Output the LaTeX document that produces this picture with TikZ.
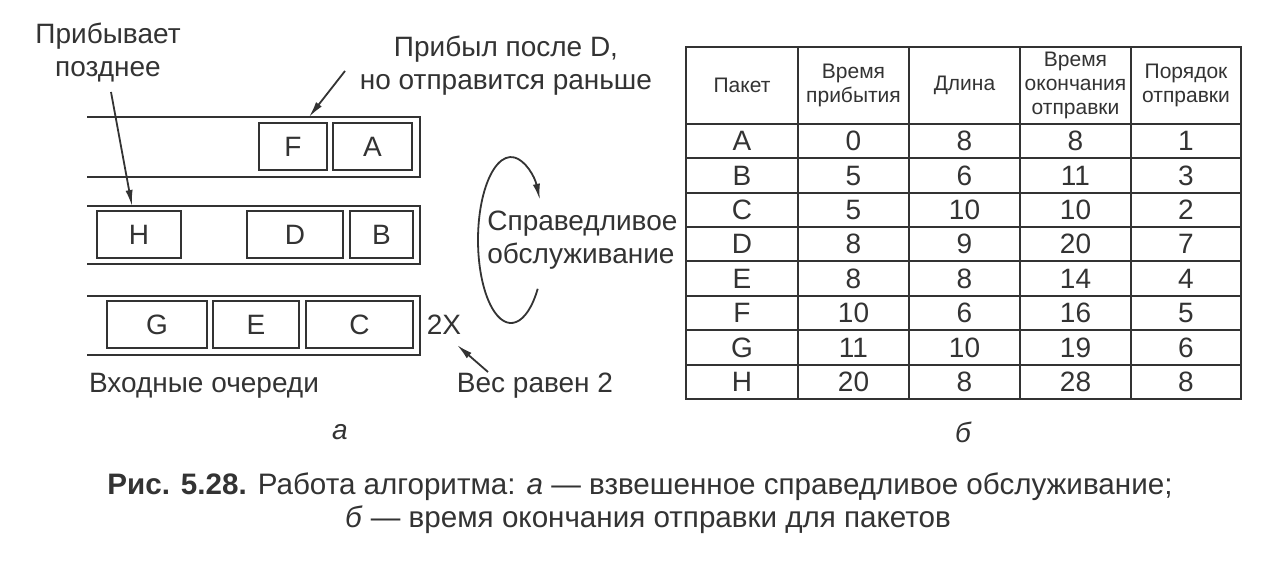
\documentclass[tikz,border=0pt]{standalone}
\usepackage{fontspec}
\setmainfont{Liberation Sans}
\usetikzlibrary{arrows.meta}
\definecolor{ink}{HTML}{333333}
\begin{document}
\begin{tikzpicture}[x=0.5pt,y=-0.5pt,
  lbl/.style={text=ink,inner sep=0pt,font=\fontsize{14}{16.5}\selectfont},
  pkt/.style={draw=ink,line width=1pt,inner sep=0pt,minimum height=23.5pt,text=ink,font=\fontsize{14}{16}\selectfont},
  queue/.style={draw=ink,line width=1pt},
  arr/.style={draw=ink,line width=0.9pt,-{Latex[length=8pt,width=3.6pt]}},
  hd/.style={text=ink,inner sep=0pt,align=center,font=\fontsize{10.5}{12.2}\selectfont},
  cell/.style={text=ink,inner sep=0pt,font=\fontsize{14}{16}\selectfont},
  tgrid/.style={draw=ink,line width=1pt},
  captxt/.style={text=ink,inner sep=0pt,font=\fontsize{14.8}{17}\selectfont}]
\useasboundingbox (0,0) rectangle (1280,572);
\fill[white] (0,0) rectangle (1280,572);

% queues
\draw[queue] (87,117) -- (420,117) -- (420,177) -- (87,177);
\draw[queue] (87,206) -- (420,206) -- (420,264) -- (87,264);
\draw[queue] (87,296) -- (420,296) -- (420,355) -- (87,355);

% packets
\node[pkt,minimum width=34pt] (F) at (293,147) {F};
\node[pkt,minimum width=39.5pt] (A) at (372.5,147) {A};
\node[pkt,minimum width=42pt] (H) at (139,235) {H};
\node[pkt,minimum width=48pt] (D) at (295,235) {D};
\node[pkt,minimum width=31.5pt] (B) at (381.5,235) {B};
\node[pkt,minimum width=50pt] (G) at (157,325) {G};
\node[pkt,minimum width=43pt] (E) at (256,325) {E};
\node[pkt,minimum width=53.5pt] (C) at (359.5,325) {C};

% labels
\node[lbl,align=center] (late) at (108,53) {Прибывает\\позднее};
\node[lbl,align=center] (afterD) at (506,66) {Прибыл после D,\\но отправится раньше};
\node[lbl,align=left,anchor=west] (fair) at (487,240) {Справедливое\\обслуживание};
\node[lbl] (twox) at (444,325) {2X};
\node[lbl] (weight) at (535,386) {Вес равен 2};
\node[lbl] (inq) at (204,386) {Входные очереди};
\node[lbl,font=\fontsize{14}{16}\selectfont\itshape] (sa) at (340,432) {а};
\node[lbl,font=\fontsize{14}{16}\selectfont\itshape] (sb) at (963,432) {б};

% arrows
\coordinate (q2top) at (132,206);
\coordinate (q1top) at (309,117);
\coordinate (a1s) at (111,92);
\coordinate (a2s) at (345,71);
\coordinate (a3s) at (488,372);
\coordinate (a3e) at (457,345);
\draw[arr] (a1s) -- (q2top);
\draw[arr] (a2s) -- (q1top);
\draw[arr] (a3s) -- (a3e);

% round-robin loop
\coordinate (loopc) at (511,240);
\draw[arr] ([shift={(26.7,48.8)}]loopc) arc[start angle=36,end angle=331,x radius=33,y radius=83];

% table grid
\draw[tgrid] (686,47) rectangle (1241,399);
\foreach \x in {798,909,1020,1131} \draw[tgrid] (\x,47) -- (\x,399);
\foreach \i in {0,...,7} \draw[tgrid] (686,{124+34.375*\i}) -- (1241,{124+34.375*\i});

% header
\node[hd] (h1) at (742,85.5) {Пакет};
\node[hd] (h2) at (853.5,85.5) {Время\\прибытия};
\node[hd] (h3) at (964.5,85.5) {Длина};
\node[hd] (h4) at (1075.5,85.5) {Время\\окончания\\отправки};
\node[hd] (h5) at (1186,85.5) {Порядок\\отправки};

% data
\foreach \p/\ta/\len/\fin/\ord [count=\i from 0] in {A/0/8/8/1,B/5/6/11/3,C/5/10/10/2,D/8/9/20/7,E/8/8/14/4,F/10/6/16/5,G/11/10/19/6,H/20/8/28/8}{
  \pgfmathsetmacro{\yy}{141.2+34.375*\i}
  \node[cell] (r\i c1) at (742,\yy) {\p};
  \node[cell] (r\i c2) at (853.5,\yy) {\ta};
  \node[cell] (r\i c3) at (964.5,\yy) {\len};
  \node[cell] (r\i c4) at (1075.5,\yy) {\fin};
  \node[cell] (r\i c5) at (1186,\yy) {\ord};
}

% caption
\node[captxt] (cap1) at (640,487) {\textbf{Рис. 5.28.} Работа алгоритма: \textit{а} — взвешенное справедливое обслуживание;};
\node[captxt] (cap2) at (648,520) {\textit{б} — время окончания отправки для пакетов};
\end{tikzpicture}
\end{document}
